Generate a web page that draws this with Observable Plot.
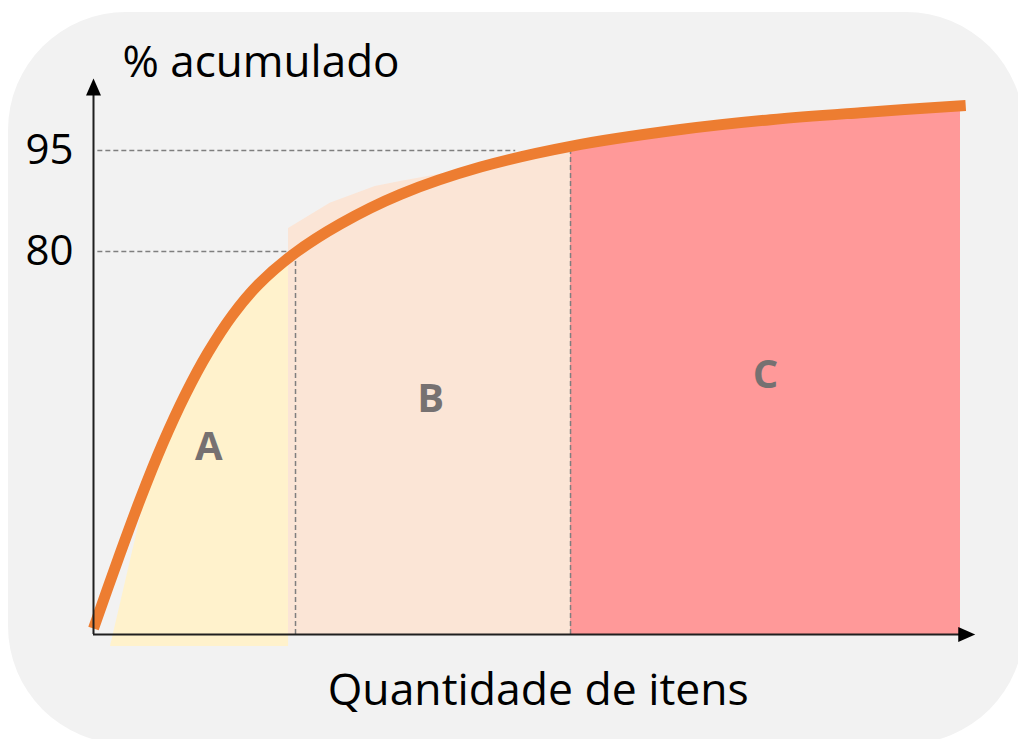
<!DOCTYPE html>
<html>
<head>
<meta charset="utf-8">
<script src="https://cdn.jsdelivr.net/npm/d3@7"></script>
<script src="https://cdn.jsdelivr.net/npm/@observablehq/plot@0.6"></script>
<style>
  html, body { margin: 0; padding: 0; background: #ffffff; }
  #wrap { position: relative; width: 1018px; height: 739px; overflow: hidden; }
  #bg { position: absolute; left: 8px; top: 12px; width: 1016px; height: 732px; border-radius: 118px; background: #f2f2f2; }
  #chart { position: absolute; left: 0; top: 0; }
</style>
</head>
<body>
<div id="wrap"><div id="bg"></div><div id="chart"></div></div>
<script>
// ---- Data ----
// cumulative % curve: x = % of items, y = cumulative %
const curveX = [0, 2.88, 5.42, 7.96, 10.61, 13.15, 16.03, 19.03, 23.07, 28.49, 35.41, 44.64, 55.02, 67.71, 78.09, 88.47, 100.6];
const curveY = [3.8, 24.5, 37.4, 47.9, 56.8, 63.75, 70.0, 74.9, 79.6, 84.2, 88.6, 92.6, 95.6, 98.0, 99.4, 100.4, 101.4];

// class regions
const classNames = ["A", "B", "C"];
const regionEdges = [22.5, 55.02, 100.0];    // right edges of A, B, C shaded zones
const regionEdgeY = [79.0, 95.6, 101.35];    // curve value at those edges
const regionABottom = -6.3;                  // the A patch reaches a little below the axis
const aEdgeX = [1.96, 4.27, 6.57];           // slanted left edge of the A patch
const aEdgeY = [-6.3, 23.9, 42.2];
const bEdgeX = [22.5, 27.3, 32.5, 35.41];    // B patch top edge (above the curve)
const bEdgeY = [83.5, 87.3, 89.75, 90.5];
const classLabelX = [13.3, 38.9, 77.5];
const classLabelY = [47.3, 56.0, 60.0];

// thresholds and guide lines
const thresholds = [80, 95];
const tickLabels = ["80", "95"];
const guideEndX = [23.3, 48.7];              // where the horizontal dashed guides stop
const dividerX = [23.3, 55.02];              // vertical dashed dividers

// axis extents (arrow tips)
const xAxisTip = 101.7;
const yAxisTip = 105.2;

const yTitle = "% acumulado";
const xTitle = "Quantidade de itens";

// ---- Build tables ----
const curve = curveX.map((x, i) => ({x, y: curveY[i]}));

const areaA = [
  ...aEdgeX.map((x, i) => ({x, y: aEdgeY[i]})),
  ...curve.filter(d => d.x > aEdgeX[aEdgeX.length - 1] && d.x < regionEdges[0]),
  {x: regionEdges[0], y: regionEdgeY[0]}
];
const areaB = [
  ...bEdgeX.map((x, i) => ({x, y: bEdgeY[i]})),
  ...curve.filter(d => d.x > bEdgeX[bEdgeX.length - 1] && d.x < regionEdges[1]),
  {x: regionEdges[1], y: regionEdgeY[1]}
];
const areaC = [
  ...curve.filter(d => d.x >= regionEdges[1] && d.x < regionEdges[2]),
  {x: regionEdges[2], y: regionEdgeY[2]}
];

const guides = thresholds.map((t, i) => ({y: t, x2: guideEndX[i]}));
const dividers = dividerX.map((x, i) => ({x, y2: thresholds[i]}));
const classLabels = classNames.map((c, i) => ({c, x: classLabelX[i], y: classLabelY[i]}));
const ticks = thresholds.map((t, i) => ({y: t, label: tickLabels[i]}));

// arrowhead symbols (tip at the origin)
const arrowUp = {draw(ctx) { ctx.moveTo(0, 0); ctx.lineTo(-7.5, 17); ctx.lineTo(7.5, 17); ctx.closePath(); }};
const arrowRight = {draw(ctx) { ctx.moveTo(0, 0); ctx.lineTo(-17, -7.5); ctx.lineTo(-17, 7.5); ctx.closePath(); }};

const chart = Plot.plot({
  width: 1018,
  height: 739,
  x: {domain: [0, 100], range: [93, 960], axis: null},
  y: {type: "pow", exponent: 1.362, domain: [0, 95], range: [634, 150], axis: null},
  style: {background: "transparent", fontFamily: "Open Sans", overflow: "visible"},
  marks: [
    Plot.areaY(areaA, {x: "x", y1: regionABottom, y2: "y", fill: "#fff2cc"}),
    Plot.areaY(areaB, {x: "x", y1: 0, y2: "y", fill: "#fbe5d6"}),
    Plot.areaY(areaC, {x: "x", y1: 0, y2: "y", fill: "#ff9999"}),
    Plot.ruleY(guides, {y: "y", x1: 0.5, x2: "x2", stroke: "#7f7f7f", strokeWidth: 1.5, strokeDasharray: "5,3"}),
    Plot.ruleX(dividers, {x: "x", y1: 0, y2: "y2", stroke: "#7f7f7f", strokeWidth: 1.5, strokeDasharray: "5,3"}),
    Plot.line(curve, {x: "x", y: "y", stroke: "#ed7d31", strokeWidth: 11, curve: "catmull-rom", strokeLinecap: "butt"}),
    Plot.ruleY([0], {x1: 0, x2: xAxisTip - 1, stroke: "#1f1f1f", strokeWidth: 2}),
    Plot.ruleX([0], {y1: 0, y2: yAxisTip - 1, stroke: "#1f1f1f", strokeWidth: 2}),
    Plot.dot([{x: 0, y: yAxisTip}], {x: "x", y: "y", symbol: arrowUp, fill: "#000", stroke: "none"}),
    Plot.dot([{x: xAxisTip, y: 0}], {x: "x", y: "y", symbol: arrowRight, fill: "#000", stroke: "none"}),
    Plot.text(ticks, {x: 0, y: "y", text: "label", dx: -20, textAnchor: "end", fontSize: 42, fill: "#000"}),
    Plot.text(classLabels, {x: "x", y: "y", text: "c", fontSize: 40, fontWeight: "bold", fill: "#767171"}),
    Plot.text([yTitle], {x: 3.35, y: 107.4, text: d => d, textAnchor: "start", fontSize: 44, fill: "#000"}),
    Plot.text([xTitle], {x: 51.3, y: -19.5, text: d => d, fontSize: 44.5, fill: "#000"})
  ]
});
document.getElementById("chart").append(chart);
</script>
</body>
</html>
